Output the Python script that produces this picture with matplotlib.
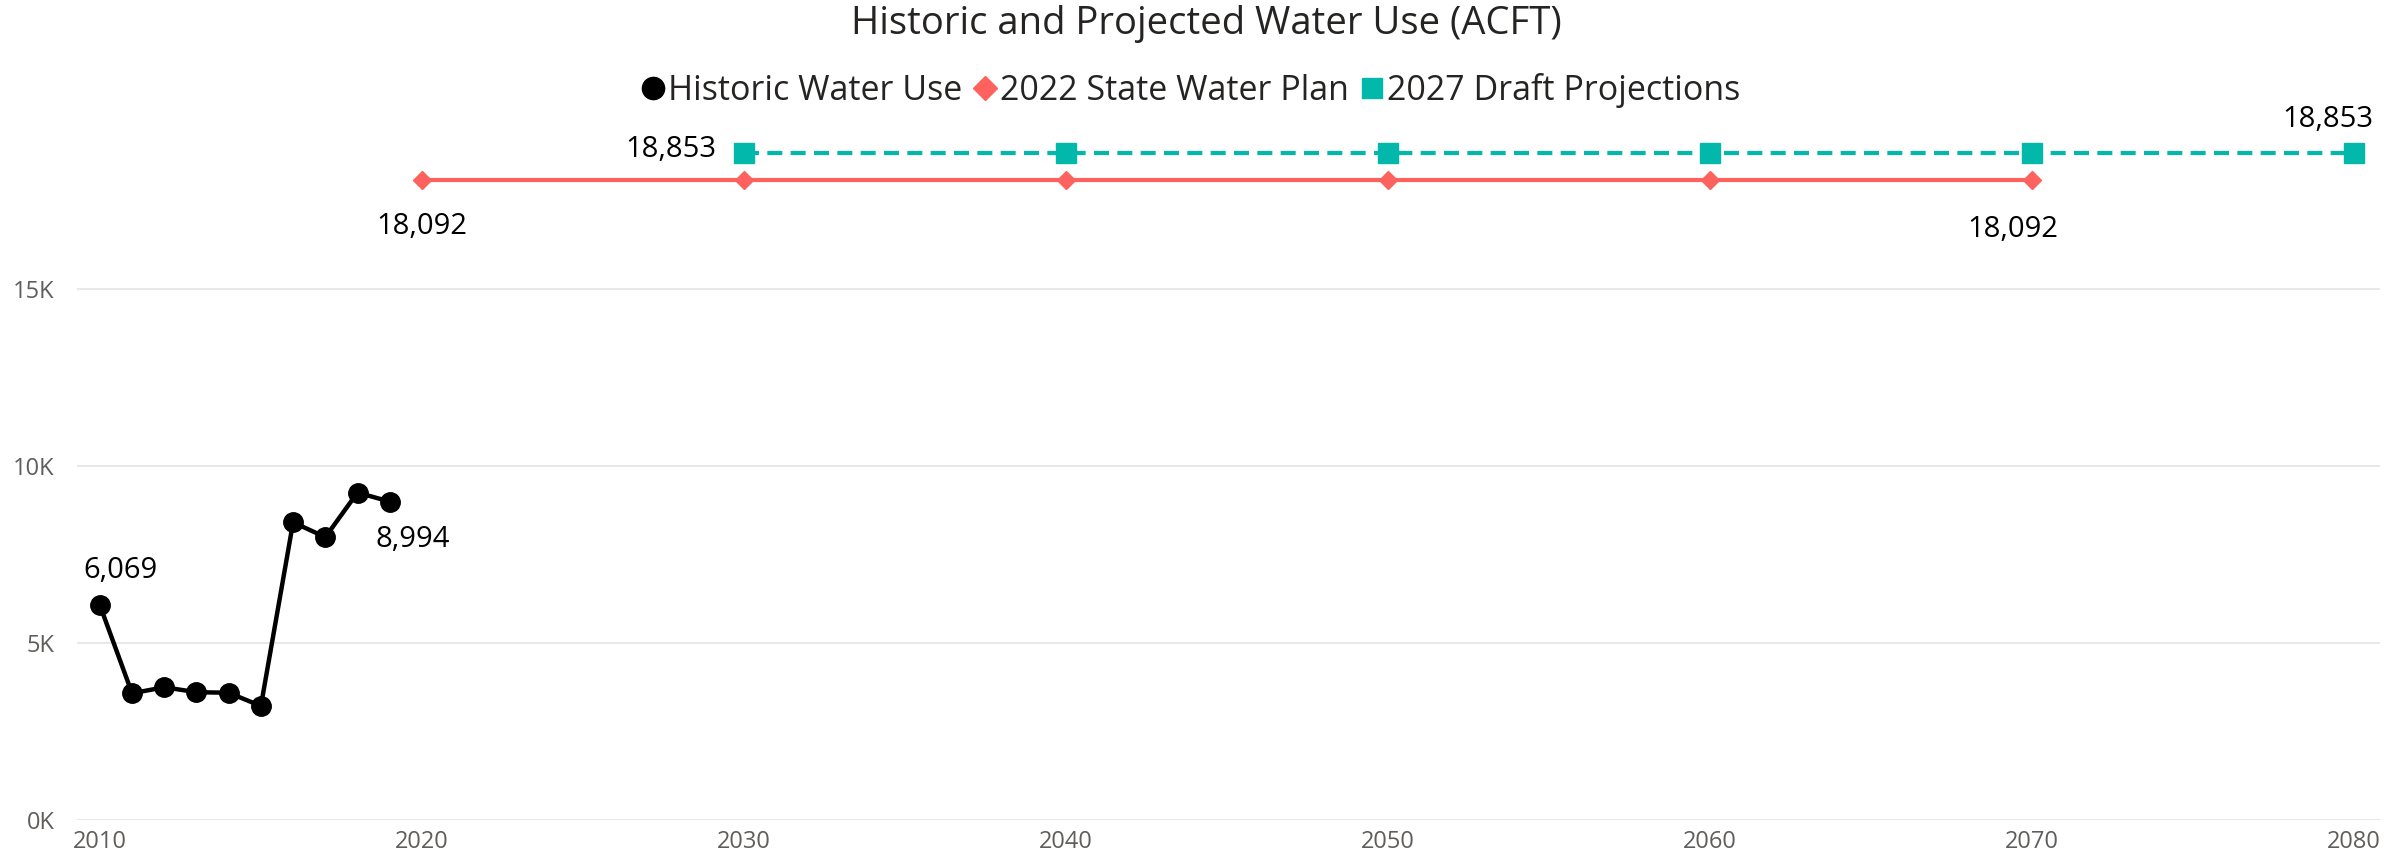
import matplotlib
matplotlib.use("Agg")
import matplotlib.pyplot as plt
from matplotlib.lines import Line2D

plt.rcParams['font.family'] = ['Open Sans', 'DejaVu Sans']

hist_years = [2010, 2011, 2012, 2013, 2014, 2015, 2016, 2017, 2018, 2019]
hist_values = [6069, 3580, 3750, 3610, 3595, 3220, 8410, 7990, 9250, 8994]
plan_years = [2020, 2030, 2040, 2050, 2060, 2070]
plan_values = [18092, 18092, 18092, 18092, 18092, 18092]
draft_years = [2030, 2040, 2050, 2060, 2070, 2080]
draft_values = [18853, 18853, 18853, 18853, 18853, 18853]
x_ticks = [2010, 2020, 2030, 2040, 2050, 2060, 2070, 2080]
y_ticks = [0, 5000, 10000, 15000]
y_tick_labels = ['0K', '5K', '10K', '15K']

BLACK = '#000000'
RED = '#FD625E'
TEAL = '#01B8AA'
GREY = '#605E5C'

fig = plt.figure(figsize=(23.89, 8.64), dpi=100)
ax = fig.add_axes([77/2389, 44/864, (2380-77)/2389, (820-130)/864])

ax.plot(hist_years, hist_values, color=BLACK, lw=3.2, marker='o', ms=14, zorder=4)
ax.plot(plan_years, plan_values, color=RED, lw=3.0, marker='D', ms=9.5, zorder=3)
ax.plot(draft_years, draft_values, color=TEAL, lw=3.0, ls=(0, (3.6, 2.0)), marker='s', ms=14, zorder=3)

ax.set_xlim(2009.29, 2080.8)
ax.set_ylim(0, 19492)
ax.set_xticks(x_ticks)
ax.set_xticklabels([str(t) for t in x_ticks])
ax.set_yticks(y_ticks)
ax.set_yticklabels(y_tick_labels)
ax.tick_params(axis='both', length=0, labelsize=17, labelcolor=GREY)
ax.tick_params(axis='y', pad=16)
ax.tick_params(axis='x', pad=7)
for s in ax.spines.values():
    s.set_visible(False)
ax.grid(axis='y', color='#E6E6E6', lw=1.3)
ax.set_axisbelow(True)

lab_kw = dict(textcoords='offset points', fontsize=21, color='#000000')
ax.annotate(f"{hist_values[0]:,}", (hist_years[0], hist_values[0]), xytext=(-12, 25), ha='left', va='center', **lab_kw)
ax.annotate(f"{hist_values[-1]:,}", (hist_years[-1], hist_values[-1]), xytext=(-10, -27), ha='left', va='center', **lab_kw)
ax.annotate(f"{plan_values[0]:,}", (plan_years[0], plan_values[0]), xytext=(0, -34), ha='center', va='center', **lab_kw)
ax.annotate(f"{plan_values[-1]:,}", (plan_years[-1], plan_values[-1]), xytext=(-14, -36), ha='center', va='center', **lab_kw)
ax.annotate(f"{draft_values[0]:,}", (draft_years[0], draft_values[0]), xytext=(-20, 2), ha='right', va='center', **lab_kw)
ax.annotate(f"{draft_values[-1]:,}", (draft_years[-1], draft_values[-1]), xytext=(-19, 24), ha='center', va='center', **lab_kw)

fig.text(0.505, 0.972, 'Historic and Projected Water Use (ACFT)', ha='center', va='center', fontsize=27.5, color='#252423')

handles = [
    Line2D([], [], color=BLACK, marker='o', ls='none', ms=16),
    Line2D([], [], color=RED, marker='D', ls='none', ms=12),
    Line2D([], [], color=TEAL, marker='s', ls='none', ms=15),
]
labels = ['Historic Water Use', '2022 State Water Plan', '2027 Draft Projections']
fig.legend(handles, labels, loc='center', bbox_to_anchor=(0.4985, 0.895), ncol=3, frameon=False,
           fontsize=24.5, handlelength=0.65, handletextpad=0.12, columnspacing=0.35, labelcolor='#252423')

fig.savefig('out.png', dpi=100, facecolor='white')
